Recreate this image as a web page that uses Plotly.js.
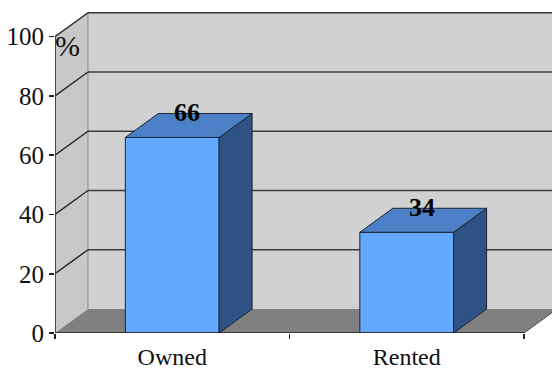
<!DOCTYPE html>
<html><head><meta charset="utf-8">
<script src="https://cdn.plot.ly/plotly-3.0.1.min.js"></script>
<style>html,body{margin:0;padding:0;background:#fff}#chart{width:552px;height:370px}</style>
</head><body><div id="chart"></div>
<script>
const categories = ["Owned", "Rented"];
const values = [66, 34];
const valueLabels = ["66", "34"];
const yTickVals = [0, 20, 40, 60, 80, 100];
const yTickText = ["0", "20", "40", "60", "80", "100"];

// 3D geometry (axis units)
const DX = 0.1405, DY = 8.1, W = 0.4;
const X0 = -0.5, X1 = categories.length - 0.5, YMAX = 100;
const idx = categories.map((c, i) => i);
const edge = '#1b2433';
const serif = '"Liberation Serif", "Times New Roman", serif';

const traces = [];
traces.push({type: 'bar', x: idx, y: values, width: W,
  marker: {color: '#63a9ff', line: {color: edge, width: 1}}, hoverinfo: 'skip'});
idx.forEach((i, k) => {
  const v = values[k], l = i - W / 2, r = i + W / 2;
  traces.push({type: 'scatter', mode: 'lines', fill: 'toself',
    x: [r, r + DX, r + DX, r, r], y: [0, DY, v + DY, v, 0],
    fillcolor: '#2f5284', line: {color: edge, width: 1}, hoverinfo: 'skip'});
  traces.push({type: 'scatter', mode: 'lines', fill: 'toself',
    x: [l, l + DX, r + DX, r, l], y: [v, v + DY, v + DY, v, v],
    fillcolor: '#4b7fc6', line: {color: edge, width: 1}, hoverinfo: 'skip'});
});
traces.push({type: 'scatter', x: [0], y: [0], xaxis: 'x2', mode: 'markers',
  marker: {opacity: 0}, hoverinfo: 'skip'});

const shapes = [];
const P = (pts) => 'M' + pts.map(p => p[0] + ',' + p[1]).join('L') + 'Z';
// side wall
shapes.push({type: 'path', xref: 'x', yref: 'y', layer: 'below',
  path: P([[X0, 0], [X0, YMAX], [X0 + DX, YMAX + DY], [X0 + DX, DY]]),
  fillcolor: '#c8c8c8', line: {width: 0}});
// back wall
shapes.push({type: 'rect', xref: 'x', yref: 'y', layer: 'below',
  x0: X0 + DX, x1: X1 + DX + 0.2, y0: DY, y1: YMAX + DY,
  fillcolor: '#d1d1d1', line: {width: 0}});
// floor
shapes.push({type: 'path', xref: 'x', yref: 'y', layer: 'below',
  path: P([[X0, 0], [X1, 0], [X1 + DX, DY], [X0 + DX, DY]]),
  fillcolor: '#808080', line: {width: 0}});
// back-left vertical edge
shapes.push({type: 'line', xref: 'x', yref: 'y', layer: 'below',
  x0: X0 + DX, x1: X0 + DX, y0: DY, y1: YMAX + DY, line: {color: '#8a8a8a', width: 1}});
// gridlines on back wall and side wall
yTickVals.forEach(t => {
  if (t > 0) {
    shapes.push({type: 'line', xref: 'x', yref: 'y', layer: 'below',
      x0: X0 + DX, x1: X1 + DX + 0.2, y0: t + DY, y1: t + DY, line: {color: '#3c3c3c', width: 1.5}});
    shapes.push({type: 'line', xref: 'x', yref: 'y', layer: 'below',
      x0: X0, x1: X0 + DX, y0: t, y1: t + DY, line: {color: '#2a2a2a', width: 1.5}});
  }
});
// floor right edge
shapes.push({type: 'line', xref: 'x', yref: 'y', layer: 'below',
  x0: X1, x1: X1 + DX, y0: 0, y1: DY, line: {color: '#444', width: 1}});
// axis lines
shapes.push({type: 'line', xref: 'x', yref: 'y', layer: 'above',
  x0: X0, x1: X0, y0: 0, y1: YMAX, line: {color: '#222', width: 1.5}});
shapes.push({type: 'line', xref: 'x', yref: 'y', layer: 'above',
  x0: X0, x1: X1, y0: 0, y1: 0, line: {color: '#222', width: 1.5}});

const annotations = [];
idx.forEach((i, k) => {
  annotations.push({xref: 'x', yref: 'y', x: i + DX * 0.45, y: values[k] + DY * 1.05,
    text: '<b>' + valueLabels[k] + '</b>', showarrow: false,
    xanchor: 'center', yanchor: 'middle', font: {family: serif, size: 26, color: '#000'}});
});
annotations.push({xref: 'x', yref: 'y', x: X0 + 0.052, y: 97, text: '%', showarrow: false,
  xanchor: 'center', yanchor: 'middle', font: {family: serif, size: 30, color: '#111'}});

const xr = [-0.5, -0.5 + 497 / 234.5];
const layout = {
  width: 552, height: 370,
  margin: {l: 55, r: 0, t: 12, b: 37, pad: 0},
  paper_bgcolor: '#fff', plot_bgcolor: 'rgba(0,0,0,0)',
  showlegend: false,
  font: {family: serif, size: 25, color: '#111'},
  xaxis: {type: 'linear', range: xr, tickvals: idx, ticktext: categories,
    showgrid: false, zeroline: false, showline: false,
    ticks: 'outside', ticklen: 2, tickcolor: 'rgba(0,0,0,0)',
    tickfont: {family: serif, size: 24, color: '#111'}, fixedrange: true},
  xaxis2: {type: 'linear', overlaying: 'x', side: 'bottom', range: xr,
    tickvals: [-0.5, 0.5, 1.5], ticktext: ['', '', ''], showticklabels: false,
    ticks: 'outside', ticklen: 5, tickcolor: '#222', tickwidth: 1.5,
    showgrid: false, zeroline: false, showline: false, anchor: 'y'},
  yaxis: {range: [0, 108.35], tickvals: yTickVals, ticktext: yTickText,
    showgrid: false, zeroline: false, showline: false,
    ticks: 'outside', ticklen: 5, tickcolor: '#222', tickwidth: 1.5,
    tickfont: {family: serif, size: 25, color: '#111'}, fixedrange: true},
  shapes: shapes, annotations: annotations
};
Plotly.newPlot('chart', traces, layout, {staticPlot: true, displayModeBar: false});
</script></body></html>
